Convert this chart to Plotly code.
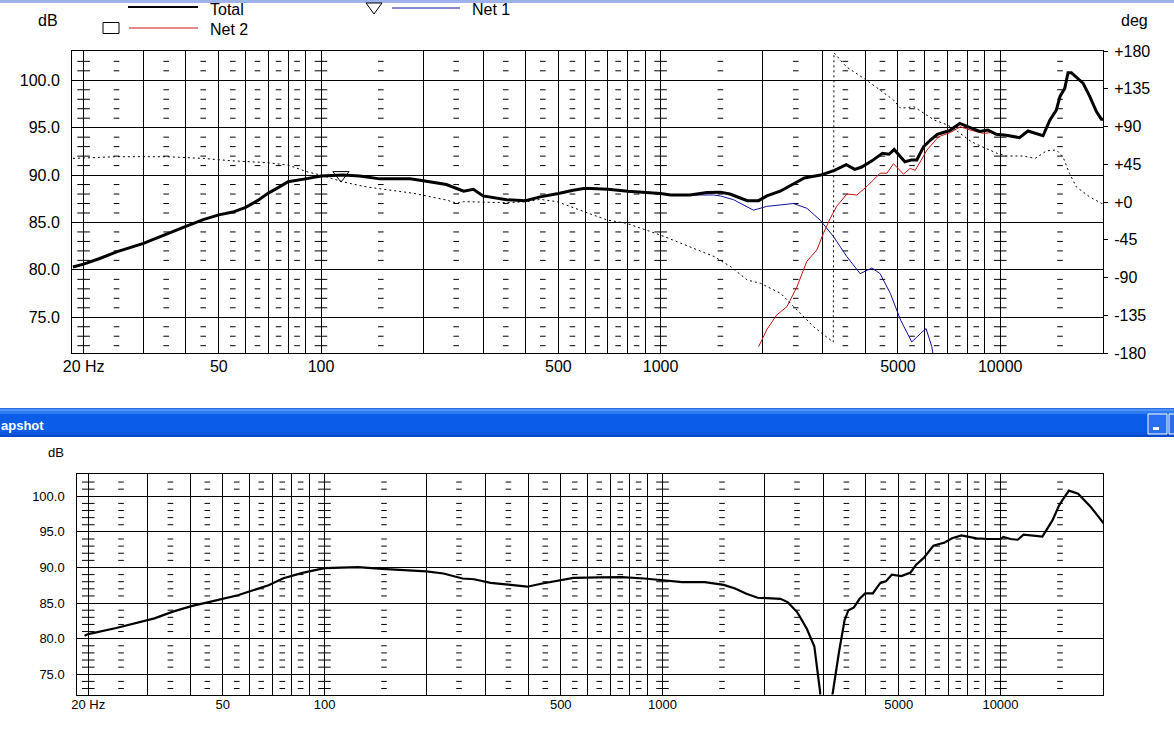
import plotly.graph_objects as go

W, H = 1174, 738

# ---------------- data ----------------
total_freq = [18.6, 20, 22.3, 25, 30, 35, 40, 45, 50, 55, 60, 65, 70, 75, 80, 90, 100, 116, 130, 149,
              183, 200, 234, 263, 281, 300, 352, 400, 442, 500, 553, 600, 700, 800, 900, 1000, 1070,
              1220, 1370, 1500, 1600, 1800, 1944, 2055, 2250, 2470, 2650, 2960, 3250, 3520, 3730,
              3910, 4190, 4500, 4710, 4870, 5050, 5240, 5490, 5680, 5950, 6230, 6530, 7100, 7600,
              8130, 8700, 9200, 9740, 10430, 11400, 12070, 12790, 13370, 14000, 14630, 15000, 15490,
              15840, 16200, 17530, 18350, 19200, 19850, 20300]
total_db = [80.3, 80.6, 81.2, 81.9, 82.8, 83.8, 84.6, 85.3, 85.8, 86.1, 86.6, 87.3, 88.1, 88.7, 89.3,
            89.6, 89.9, 90.0, 89.9, 89.6, 89.6, 89.4, 89.0, 88.3, 88.5, 87.8, 87.4, 87.3, 87.7, 88.05,
            88.4, 88.6, 88.5, 88.3, 88.2, 88.05, 87.9, 87.9, 88.15, 88.2, 88.0, 87.3, 87.3, 87.8, 88.3,
            89.1, 89.7, 90.0, 90.5, 91.1, 90.6, 90.85, 91.5, 92.3, 92.2, 92.7, 92.1, 91.4, 91.6, 91.6,
            93.0, 93.7, 94.3, 94.7, 95.45, 95.0, 94.6, 94.75, 94.3, 94.2, 93.95, 94.65, 94.4, 94.15,
            95.8, 96.85, 98.3, 99.15, 100.8, 100.8, 99.7, 98.3, 96.7, 95.9, 95.9]

net1_split = 1300
net1_hi_freq = [1300, 1430, 1500, 1640, 1877, 2055, 2250, 2460, 2695, 2950, 3230, 3535, 3870, 4050,
                4190, 4430, 4750, 5090, 5490, 5830, 6050, 6290, 6350]
net1_hi_db = [87.95, 87.9, 87.8, 87.4, 86.3, 86.7, 86.85, 87.0, 86.5, 85.25, 83.5, 81.4, 79.6, 79.9,
              80.2, 79.6, 77.5, 74.7, 72.4, 73.3, 73.8, 71.9, 71.0]

net2_lo_freq = [1944, 2055, 2198, 2353, 2520, 2695, 2885, 3016, 3155, 3300, 3535, 3785, 4050, 4430,
                4640, 4850, 5190, 5430, 5620, 6090, 6590, 7140, 7630, 8250, 8930, 9500]
net2_lo_db = [71.9, 73.7, 75.25, 76.1, 78.2, 80.9, 82.1, 83.85, 85.4, 86.7, 88.0, 87.9, 88.8, 90.2,
              90.2, 91.2, 90.1, 90.7, 90.5, 92.65, 94.05, 94.5, 95.1, 94.7, 94.4, 94.5]

phase_freq = [18.6, 25, 35, 45, 55, 69, 80, 91, 100, 116, 136, 171, 187, 234, 251, 263, 352, 404, 442,
              495, 580, 695, 794, 910, 997, 1145, 1437, 1607, 1800, 1970, 2258, 2527, 2827, 3026,
              3225, 3240, 3526, 4050, 4430, 4850, 5090, 5570, 6390, 7000, 7500, 8220, 8830, 9800,
              10430, 11700, 12680, 13690, 14640, 15300, 16000, 16760, 18350, 19850, 20300]
phase_deg = [52, 54, 54, 52, 49, 47, 44, 36, 32, 24, 18, 12, 10.4, 2.4, -1.5, 0.4, -0.8, 0.4, 3.2,
             0.4, -9.5, -21.4, -25.4, -33.4, -39.3, -49, -65, -77, -93, -97, -109, -129, -149, -158.5,
             -167, 178, 161, 145, 133.5, 121.6, 111.7, 113.6, 97.8, 91.8, 84, 72, 66, 58,
             54.8, 54.8, 52, 61, 62, 54, 34, 18, 6, -1.5, -2]

snap_freq = [19.5, 20, 24.2, 27.5, 31.4, 35.6, 40.6, 45.1, 50, 55.4, 61.5, 68.3, 75.6, 80, 86, 100,
             114.5, 125.6, 148, 178, 200, 225, 256, 277, 310, 350, 398, 441, 500, 545, 650, 758, 884,
             1000, 1144, 1334, 1518, 1640, 1771, 1912, 2234, 2350, 2506, 2673, 2814, 2925, 2980,
             3150, 3185, 3330, 3458, 3550, 3684, 3830, 3980, 4190, 4405, 4590, 4770, 5090, 5420,
             5630, 5930, 6330, 6840, 7190, 7660, 8500, 9180, 10000, 10200, 10700, 11250, 11700,
             12350, 13300, 14260, 14900, 15340, 15940, 16970, 18500, 20200, 20500]
snap_db = [80.4, 80.65, 81.5, 82.2, 82.85, 83.8, 84.6, 85.1, 85.6, 86.1, 86.8, 87.5, 88.5, 88.85,
           89.25, 89.9, 90.05, 90.05, 89.8, 89.6, 89.45, 89.15, 88.45, 88.35, 87.85, 87.6, 87.3,
           87.75, 88.2, 88.55, 88.6, 88.65, 88.45, 88.2, 87.95, 87.95, 87.55, 87.05, 86.3, 85.75,
           85.6, 85.1, 83.7, 81.4, 78.9, 72.6, 64.0, 64.0, 72.2, 78.2, 82.6, 84.0, 84.4, 85.6, 86.35,
           86.35, 87.8, 88.1, 89.0, 88.8, 89.3, 90.4, 91.35, 93.05, 93.5, 94.1, 94.5, 94.1, 94.0,
           94.0, 94.3, 94.0, 93.9, 94.6, 94.5, 94.35, 96.65, 98.7, 99.65, 100.8, 100.35, 98.5, 96.2,
           96.0]

net1_marker_freq, net1_marker_db = 114.5, 90.0
net2_marker_freq, net2_marker_db = 15840, 101.0
snap_marker_freq = [80, 310, 1220, 4770]
snap_marker_db = [88.9, 87.85, 87.9, 89.2]
snap_marker_text = ["1", "1", "1", "1"]

x_tick_vals = [20, 50, 100, 500, 1000, 5000, 10000]
x_tick_text = ["20 Hz", "50", "100", "500", "1000", "5000", "10000"]
x_grid_vals = [20, 30, 40, 50, 60, 70, 80, 90, 100, 200, 300, 400, 500, 600, 700, 800, 900,
               1000, 2000, 3000, 4000, 5000, 6000, 7000, 8000, 9000, 10000]
x_minor_cols = [25, 35, 45, 55, 65, 75, 85, 150, 250, 350, 450, 550, 650, 750, 850,
                1500, 2500, 3500, 4500, 5500, 6500, 7500, 8500, 15000]
x_ticked_lines = [20, 100, 1000, 10000]
db_tick_vals = [75, 80, 85, 90, 95, 100]
db_tick_text = ["75.0", "80.0", "85.0", "90.0", "95.0", "100.0"]
deg_tick_vals = [180, 135, 90, 45, 0, -45, -90, -135, -180]
deg_tick_text = ["+180", "+135", "+90", "+45", "+0", "-45", "-90", "-135", "-180"]

# ---------------- derived series ----------------
net1_freq = [f for f in total_freq if f < net1_split] + net1_hi_freq
net1_db = [d for f, d in zip(total_freq, total_db) if f < net1_split] + net1_hi_db
net2_freq = net2_lo_freq + [f for f in total_freq if f > net2_lo_freq[-1]]
net2_db = net2_lo_db + [d for f, d in zip(total_freq, total_db) if f > net2_lo_freq[-1]]

FONT = "Liberation Sans, Arial, sans-serif"


def px(x):
    return x / W


def py(y):
    return 1 - y / H


TOP_X = (72, 1103)
TOP_Y = (51, 353)
BOT_X = (77.3, 1103)
BOT_Y = (474, 694.5)
TOP_XR = [1.2668, 4.3027]
TOP_DB = [71.23, 103.09]
BOT_XR = [1.2686, 4.3033]
BOT_DB = [72.16, 103.13]

fig = go.Figure()


def dash_marks(xa, ya, lo, hi):
    levels = [v for v in range(int(lo) + 1, int(hi) + 1) if v % 5 != 0 and lo + 0.4 < v < hi - 0.4]
    xs, ys = [], []
    for f in x_minor_cols:
        for v in levels:
            xs.append(f)
            ys.append(v)
    fig.add_trace(go.Scatter(x=xs, y=ys, xaxis=xa, yaxis=ya, mode="markers",
                             marker=dict(symbol="line-ew", size=4, line=dict(color="black", width=1)),
                             hoverinfo="skip", showlegend=False))
    xs, ys = [], []
    for f in x_ticked_lines:
        for v in levels:
            xs.append(f)
            ys.append(v)
    fig.add_trace(go.Scatter(x=xs, y=ys, xaxis=xa, yaxis=ya, mode="markers",
                             marker=dict(symbol="line-ew", size=9, line=dict(color="black", width=1)),
                             hoverinfo="skip", showlegend=False))


dash_marks("x", "y", TOP_DB[0], TOP_DB[1])
dash_marks("x2", "y3", BOT_DB[0], BOT_DB[1])

# ---- top panel traces ----
fig.add_trace(go.Scatter(x=phase_freq, y=phase_deg, xaxis="x", yaxis="y2", mode="lines",
                         line=dict(color="black", width=1, dash="2px,3px"), showlegend=False))
fig.add_trace(go.Scatter(x=net1_freq, y=net1_db, xaxis="x", yaxis="y", mode="lines",
                         line=dict(color="#1010A0", width=1), name="Net 1", showlegend=False))
fig.add_trace(go.Scatter(x=net2_freq, y=net2_db, xaxis="x", yaxis="y", mode="lines",
                         line=dict(color="#D01010", width=1), name="Net 2", showlegend=False))
fig.add_trace(go.Scatter(x=total_freq, y=total_db, xaxis="x", yaxis="y", mode="lines",
                         line=dict(color="black", width=3), name="Total", showlegend=False))
fig.add_trace(go.Scatter(x=[net1_marker_freq], y=[net1_marker_db], xaxis="x", yaxis="y", mode="markers",
                         marker=dict(symbol="triangle-down-open", size=14, color="black",
                                     line=dict(width=1, color="black")),
                         showlegend=False, hoverinfo="skip"))

# ---- bottom panel trace ----
fig.add_trace(go.Scatter(x=snap_freq, y=snap_db, xaxis="x2", yaxis="y3", mode="lines",
                         line=dict(color="black", width=2.2), showlegend=False))

annotations = []
shapes = []

# markers drawn as boxed annotations
annotations.append(dict(x=net2_marker_freq, y=net2_marker_db, xref="x", yref="y", text=" ",
                        showarrow=False, width=15, height=10, borderpad=0, borderwidth=1,
                        bordercolor="black", bgcolor="rgba(0,0,0,0)", font=dict(size=8)))
for f, d, t in zip(snap_marker_freq, snap_marker_db, snap_marker_text):
    annotations.append(dict(x=f, y=d, xref="x2", yref="y3", text=t, showarrow=False,
                            width=16, height=8, borderpad=0, borderwidth=1, bordercolor="black",
                            bgcolor="white", font=dict(size=8, family=FONT, color="black")))

# ---- legend (top) ----
shapes.append(dict(type="line", xref="paper", yref="paper", x0=px(128), x1=px(198), y0=py(7), y1=py(7),
                   line=dict(color="black", width=2)))
shapes.append(dict(type="line", xref="paper", yref="paper", x0=px(129), x1=px(198), y0=py(28), y1=py(28),
                   line=dict(color="#D01010", width=1)))
shapes.append(dict(type="line", xref="paper", yref="paper", x0=px(392), x1=px(460), y0=py(8), y1=py(8),
                   line=dict(color="#1010A0", width=1)))
shapes.append(dict(type="rect", xref="paper", yref="paper", x0=px(103), x1=px(119), y0=py(22.5), y1=py(33.5),
                   line=dict(color="black", width=1)))
tri = "M %f,%f L %f,%f L %f,%f Z" % (px(366), py(3), px(382), py(3), px(374), py(14))
shapes.append(dict(type="path", xref="paper", yref="paper", path=tri, line=dict(color="black", width=1)))


def txt(x, y, s, size=16, xanchor="left", color="black", bold=False, family=FONT):
    annotations.append(dict(x=px(x), y=py(y), xref="paper", yref="paper",
                            text=("<b>%s</b>" % s) if bold else s,
                            showarrow=False, xanchor=xanchor, yanchor="middle",
                            font=dict(size=size, color=color, family=family)))


txt(208, 10, "Total")
txt(208, 29, "Net 2")
txt(470, 10, "Net 1")
txt(48, 20, "dB", xanchor="center")
txt(1134, 20, "deg", xanchor="center")
txt(56, 452, "dB", size=13, xanchor="center")

# ---- window chrome ----
shapes.append(dict(type="rect", xref="paper", yref="paper", x0=0, x1=1, y0=py(3), y1=1,
                   line=dict(width=0), fillcolor="#9FB2EA", layer="below"))
bar_bands = [(408, 409, "#2A6BE0"), (409, 411, "#4F92F7"), (411, 414, "#2F7BF2"), (414, 432, "#0B5DE9"),
             (432, 435, "#0A55DC"), (435, 437, "#0848C8")]
for y0, y1, c in bar_bands:
    shapes.append(dict(type="rect", xref="paper", yref="paper", x0=0, x1=1, y0=py(y1), y1=py(y0),
                       line=dict(width=0), fillcolor=c, layer="above"))
shapes.append(dict(type="rect", xref="paper", yref="paper", x0=px(1148), x1=px(1167), y0=py(434), y1=py(414),
                   line=dict(color="white", width=1), fillcolor="#2A6FF0", layer="above"))
shapes.append(dict(type="rect", xref="paper", yref="paper", x0=px(1153), x1=px(1159), y0=py(430), y1=py(427),
                   line=dict(width=0), fillcolor="white", layer="above"))
shapes.append(dict(type="rect", xref="paper", yref="paper", x0=px(1169), x1=px(1180), y0=py(434), y1=py(414),
                   line=dict(color="white", width=1), fillcolor="#2A6FF0", layer="above"))
txt(-1, 425, "apshot", size=13, color="white", bold=True)

axis_common = dict(showline=True, mirror=True, linecolor="black", linewidth=1, zeroline=False,
                   showgrid=True, gridcolor="black", gridwidth=1, automargin=False)

fig.update_layout(
    width=W, height=H, margin=dict(l=0, r=0, t=0, b=0, pad=0, autoexpand=False),
    paper_bgcolor="white", plot_bgcolor="rgba(0,0,0,0)", showlegend=False,
    xaxis=dict(type="log", range=TOP_XR, domain=[px(TOP_X[0]), px(TOP_X[1])], anchor="y",
               tickmode="array", tickvals=x_tick_vals, ticktext=x_tick_text, ticks="",
               ticklabelstandoff=-1,
               tickfont=dict(family=FONT, size=16, color="black"),
               minor=dict(tickmode="array", tickvals=x_grid_vals, showgrid=True, gridcolor="black",
                          gridwidth=1, ticks=""),
               **axis_common),
    yaxis=dict(range=TOP_DB, domain=[py(TOP_Y[1]), py(TOP_Y[0])], anchor="x",
               tickmode="array", tickvals=db_tick_vals, ticktext=db_tick_text, ticks="",
               ticklabelstandoff=8,
               tickfont=dict(family=FONT, size=16, color="black"), **axis_common),
    yaxis2=dict(range=[-180, 180], overlaying="y", side="right", anchor="x", showgrid=False,
                zeroline=False, showline=False, tickmode="array", tickvals=deg_tick_vals,
                ticktext=deg_tick_text, ticks="outside", ticklen=4, tickcolor="black",
                automargin=False,
                ticklabelstandoff=3, tickfont=dict(family=FONT, size=16, color="black")),
    xaxis2=dict(type="log", range=BOT_XR, domain=[px(BOT_X[0]), px(BOT_X[1])], anchor="y3",
                tickmode="array", tickvals=x_tick_vals, ticktext=x_tick_text, ticks="",
                ticklabelstandoff=-2,
                tickfont=dict(family=FONT, size=13, color="black"),
                minor=dict(tickmode="array", tickvals=x_grid_vals, showgrid=True, gridcolor="black",
                           gridwidth=1, ticks=""),
                **axis_common),
    yaxis3=dict(range=BOT_DB, domain=[py(BOT_Y[1]), py(BOT_Y[0])], anchor="x2",
                tickmode="array", tickvals=db_tick_vals, ticktext=db_tick_text, ticks="",
                ticklabelstandoff=9,
                tickfont=dict(family=FONT, size=13, color="black"), **axis_common),
    annotations=annotations, shapes=shapes,
)

fig.write_html("out.html", config={"displayModeBar": False},
               post_script="document.body.style.margin='0px';document.body.style.overflow='hidden';")
